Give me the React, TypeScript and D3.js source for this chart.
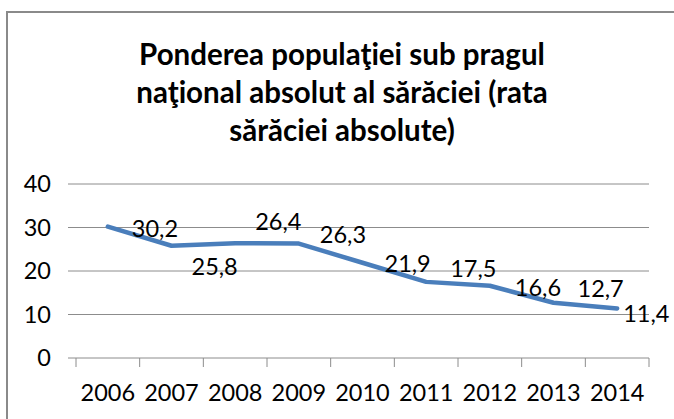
import React from 'react';
import * as d3 from 'd3';

const years = ['2006', '2007', '2008', '2009', '2010', '2011', '2012', '2013', '2014'];
const rates = [30.2, 25.8, 26.4, 26.3, 21.9, 17.5, 16.6, 12.7, 11.4];
const yTicks = [0, 10, 20, 30, 40];
const titleLines = [
  'Ponderea populaţiei sub pragul',
  'naţional absolut al sărăciei (rata',
  'sărăciei absolute)',
];

// data labels were dragged by hand in the source chart, so each one has its own nudge
const labelDx = [24, 20, 20, 21, 22, 24, 25, 24, 6];
const labelDy = [2, 21, -21, -9, 1, -13, 2, -14, 5];

const W = 674, H = 419;
const font = 'Lato, "Open Sans", sans-serif';

const App = () => {
  const x = d3.scaleBand().domain(years).range([76, 649]).padding(0);
  const y = d3.scaleLinear().domain([0, 40]).range([358, 184]);
  const cx = (d: string) => (x(d) as number) + x.bandwidth() / 2;

  const line = d3.line<number>()
    .x((d, i) => cx(years[i]))
    .y(d => y(d));

  const fmt = (v: number) => d3.format('.1f')(v).replace('.', ',');

  return (
    <svg width={W} height={H} style={{position: 'absolute', left: 0, top: 0, background: '#fff'}}>
      {/* chart frame, runs off the right and bottom of the picture */}
      <rect x={7} y={12} width={720} height={460} fill="#fff" stroke="#8a8a8a" strokeWidth={2} />

      <text x={342} y={55} textAnchor="middle" fontFamily={font} fontWeight="bold" fontSize={29.5} fill="#000">
        {titleLines.map((t, i) => (
          <tspan key={i} x={342} y={55 + i * 38} dy="0.35em">{t}</tspan>
        ))}
      </text>

      {/* gridlines, with the little outside ticks on the left */}
      {yTicks.map(t => (
        <g key={t}>
          <line x1={68} x2={649} y1={y(t)} y2={y(t)} stroke="#8c8c8c" strokeWidth={1} />
          <text x={51} y={y(t)} dy="0.35em" textAnchor="end" fontFamily={font} fontSize={23.5} fill="#000">{t}</text>
        </g>
      ))}

      {/* category ticks */}
      {[...years.map(d => x(d) as number), 649].map((tx, i) => (
        <line key={i} x1={tx} x2={tx} y1={358} y2={367} stroke="#8c8c8c" strokeWidth={1} />
      ))}
      {years.map(d => (
        <text key={d} x={cx(d)} y={393} dy="0.35em" textAnchor="middle" fontFamily={font} fontSize={23.5} fill="#000">{d}</text>
      ))}

      <path d={line(rates) || ''} fill="none" stroke="#4a7ebb" strokeWidth={4.5} strokeLinejoin="round" strokeLinecap="round" />

      {rates.map((v, i) => (
        <text key={i} x={cx(years[i]) + labelDx[i]} y={y(v) + labelDy[i]} dy="0.35em"
          fontFamily={font} fontSize={23.5} fill="#000">{fmt(v)}</text>
      ))}
    </svg>
  );
};

export default App;
